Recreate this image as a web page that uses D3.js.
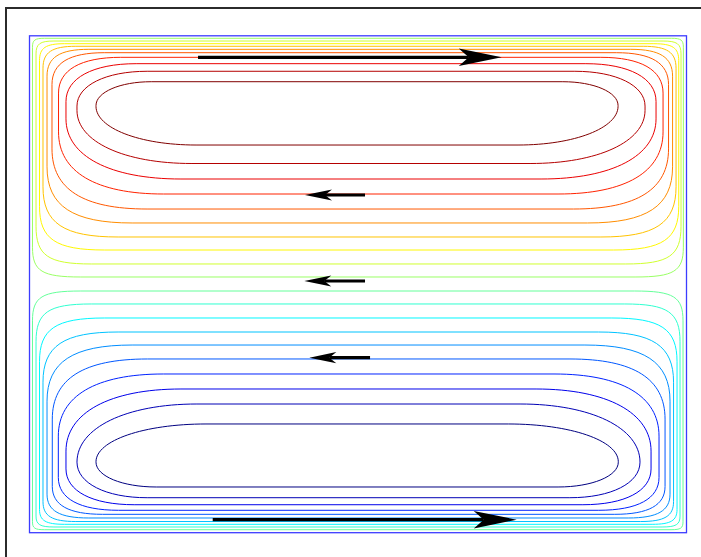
<!DOCTYPE html>
<html>
<head>
<meta charset="utf-8">
<script src="https://cdn.jsdelivr.net/npm/d3@7"></script>
<style>
  html, body { margin: 0; padding: 0; background: #fff; }
  svg { display: block; }
</style>
</head>
<body>
<svg id="svg_cavity"></svg>
<script>
// stream function levels, one closed streamline each (lower cell then upper cell)
const levels = [-0.95, -0.85, -0.75, -0.65, -0.55, -0.45, -0.35, -0.25, -0.15, -0.05,
                0.05, 0.15, 0.25, 0.35, 0.45, 0.55, 0.65, 0.75, 0.85, 0.95];

// extents of each streamline in cavity units (x 0..1.32, y 0..1 from the bottom)
const leftX = [0.1336, 0.0954, 0.0733, 0.0579, 0.0458, 0.0352, 0.0271, 0.0201, 0.0131, 0.0060,
               0.0060, 0.0131, 0.0201, 0.0271, 0.0352, 0.0452, 0.0583, 0.0733, 0.0954, 0.1336];
const rightX = [1.1830, 1.2266, 1.2488, 1.2648, 1.2769, 1.2869, 1.2940, 1.3010, 1.3070, 1.3130,
                1.3137, 1.3090, 1.3044, 1.2990, 1.2920, 1.2839, 1.2729, 1.2588, 1.2367, 1.1825];
const upperY = [0.2188, 0.2590, 0.2892, 0.3194, 0.3496, 0.3777, 0.4039, 0.4321, 0.4603, 0.4864,
                0.9950, 0.9895, 0.9841, 0.9789, 0.9728, 0.9660, 0.9567, 0.9439, 0.9286, 0.9076];
const lowerY = [0.0920, 0.0704, 0.0563, 0.0451, 0.0370, 0.0296, 0.0225, 0.0169, 0.0115, 0.0060,
                0.5146, 0.5408, 0.5689, 0.5951, 0.6233, 0.6514, 0.6816, 0.7118, 0.7430, 0.7802];

// corner bends of each streamline
const upperRx = [0.221, 0.241, 0.231, 0.211, 0.191, 0.171, 0.151, 0.131, 0.111, 0.097,
                 0.024, 0.036, 0.050, 0.066, 0.084, 0.105, 0.125, 0.141, 0.141, 0.111];
const upperRy = [0.076, 0.117, 0.125, 0.125, 0.121, 0.113, 0.101, 0.088, 0.076, 0.060,
                 0.018, 0.026, 0.034, 0.044, 0.054, 0.064, 0.072, 0.076, 0.070, 0.048];
const lowerRx = [0.121, 0.141, 0.137, 0.121, 0.101, 0.084, 0.066, 0.050, 0.036, 0.024,
                 0.097, 0.111, 0.131, 0.151, 0.171, 0.191, 0.211, 0.231, 0.231, 0.201];
const lowerRy = [0.050, 0.072, 0.072, 0.066, 0.056, 0.048, 0.040, 0.030, 0.022, 0.016,
                 0.060, 0.076, 0.088, 0.101, 0.113, 0.121, 0.125, 0.121, 0.107, 0.078];

// velocity arrows
const arrowY = [0.9567, 0.6796, 0.5065, 0.3522, 0.0262];
const arrowTail = [0.3386, 0.6741, 0.6741, 0.6842, 0.3681];
const arrowTip = [0.9488, 0.5535, 0.5521, 0.5622, 0.9789];

const width = 701;
const height = 557;

const svgChart = d3
  .select("#svg_cavity")
  .attr("width", width)
  .attr("height", height);

svgChart
  .append("rect")
  .attr("x", 6)
  .attr("y", 8)
  .attr("width", 720)
  .attr("height", 580)
  .attr("fill", "#fff")
  .attr("stroke", "#2b2b2b")
  .attr("stroke-width", 2);

const x_scale = d3.scaleLinear().domain([0, 1.32]).range([29.5, 686.5]);
const y_scale = d3.scaleLinear().domain([0, 1]).range([532.7, 35.8]);

function jet(t) {
  const c = (v) => Math.round(255 * Math.max(0, Math.min(1, v)));
  return `rgb(${c(1.5 - Math.abs(4 * t - 3))},${c(1.5 - Math.abs(4 * t - 2))},${c(1.5 - Math.abs(4 * t - 1))})`;
}
const color = d3.scaleSequential(jet).domain(d3.extent(levels));

const streamlines = levels.map((level, i) => ({
  level,
  x0: leftX[i],
  x1: rightX[i],
  yHi: upperY[i],
  yLo: lowerY[i],
  rxHi: upperRx[i],
  ryHi: upperRy[i],
  rxLo: lowerRx[i],
  ryLo: lowerRy[i],
}));

// inner loops are rounder, loops near the walls have tighter corners
const bend = d3.scaleLinear().domain([0, 1]).range([0.82, 0.55]);

function loopPath(d) {
  const k = bend(Math.abs(d.level));
  const L = x_scale(d.x0), R = x_scale(d.x1);
  const T = y_scale(d.yHi), B = y_scale(d.yLo);
  const rxT = x_scale(d.rxHi) - x_scale(0), ryT = y_scale(0) - y_scale(d.ryHi);
  const rxB = x_scale(d.rxLo) - x_scale(0);
  let ryB = y_scale(0) - y_scale(d.ryLo);
  if (T + ryT > B - ryB) ryB = B - T - ryT;
  const p = d3.path();
  p.moveTo(L + rxT, T);
  p.lineTo(R - rxT, T);
  p.bezierCurveTo(R - rxT + k * rxT, T, R, T + ryT - k * ryT, R, T + ryT);
  p.lineTo(R, B - ryB);
  p.bezierCurveTo(R, B - ryB + k * ryB, R - rxB + k * rxB, B, R - rxB, B);
  p.lineTo(L + rxB, B);
  p.bezierCurveTo(L + rxB - k * rxB, B, L, B - ryB + k * ryB, L, B - ryB);
  p.lineTo(L, T + ryT);
  p.bezierCurveTo(L, T + ryT - k * ryT, L + rxT - k * rxT, T, L + rxT, T);
  p.closePath();
  return p.toString();
}

svgChart
  .append("g")
  .selectAll("path")
  .data(streamlines)
  .join("path")
  .attr("d", loopPath)
  .attr("fill", "none")
  .attr("stroke", (d) => color(d.level))
  .attr("stroke-width", 1);

svgChart
  .append("rect")
  .attr("x", x_scale(0))
  .attr("y", y_scale(1))
  .attr("width", x_scale(1.32) - x_scale(0))
  .attr("height", y_scale(0) - y_scale(1))
  .attr("fill", "none")
  .attr("stroke", "#3c3cff")
  .attr("stroke-width", 1.3);

// arrows
const arrows = arrowY.map((y, i) => ({ y, tail: arrowTail[i], tip: arrowTip[i] }));

const arrowG = svgChart
  .selectAll("g.arrow")
  .data(arrows)
  .join("g")
  .attr("class", "arrow");

arrowG.each(function (d) {
  const g = d3.select(this);
  const y = y_scale(d.y);
  const x0 = x_scale(d.tail), x1 = x_scale(d.tip);
  const dir = Math.sign(x1 - x0);
  const long = Math.abs(x1 - x0) > 150;
  const headLen = long ? 43 : 27;
  const headW = long ? 8.7 : 5.6;
  const notch = long ? 10 : 7;
  g.append("line")
    .attr("x1", x0)
    .attr("x2", x1 - dir * (headLen - notch))
    .attr("y1", y)
    .attr("y2", y)
    .attr("stroke", "#000")
    .attr("stroke-width", 3.2);
  g.append("path")
    .attr("d", `M${x1},${y}L${x1 - dir * headLen},${y - headW}L${x1 - dir * (headLen - notch)},${y}L${x1 - dir * headLen},${y + headW}Z`)
    .attr("fill", "#000");
});
</script>
</body>
</html>
